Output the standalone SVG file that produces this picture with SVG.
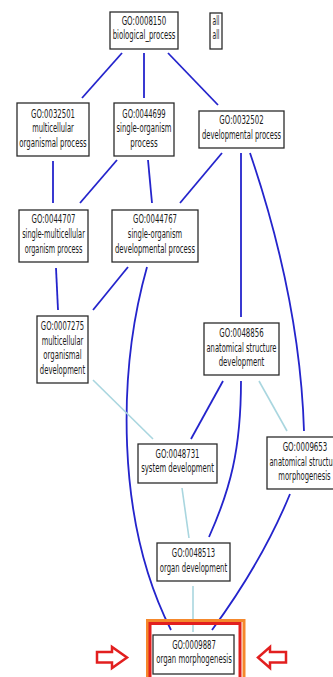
<svg xmlns="http://www.w3.org/2000/svg" width="333" height="677" viewBox="0 0 333 677">
<style>
.bg{fill:#ffffff}
.box{fill:#ffffff;stroke:#2b2b2b;stroke-width:1.3}
.t{font-family:"DejaVu Sans","Liberation Sans",sans-serif;font-size:11.5px;fill:#1a1a1a;text-anchor:middle}
.e{fill:none;stroke:#2424cc;stroke-width:1.8}
.p{fill:none;stroke:#a9d6df;stroke-width:1.6}
.hl1{fill:none;stroke:#f5882c;stroke-width:3}
.hl2{fill:none;stroke:#e21f1f;stroke-width:3}
.arr{fill:#ffffff;stroke:#e21f1f;stroke-width:2.5;stroke-linejoin:miter}
</style>
<rect class="bg" x="0" y="0" width="333" height="677"/>
<g id="connectors">
<path class="e" d="M122,53 L82,98"/>
<path class="e" d="M144,53 L144,98"/>
<path class="e" d="M168,53 L218,105"/>
<path class="e" d="M53,161 L53,203"/>
<path class="e" d="M117,160 L80,203"/>
<path class="e" d="M148,160 L152,203"/>
<path class="e" d="M222,153 L180,203"/>
<path class="e" d="M241,153 L241,317"/>
<path class="e" d="M250,153 Q300,300 304,431"/>
<path class="e" d="M56,268 L58,310"/>
<path class="e" d="M128,267 L93,310"/>
<path class="e" d="M147,267 C118,370 115,520 171,630"/>
<path class="p" d="M93,380 L153,439"/>
<path class="e" d="M223,381 L191,439"/>
<path class="e" d="M241,381 C241,450 230,490 209,537"/>
<path class="p" d="M259,381 L287,431"/>
<path class="p" d="M182,488 L189,538"/>
<path class="e" d="M290,494 Q262,562 212,630"/>
<path class="p" d="M193,586 L193,632"/>
</g>
<g id="highlight">
<rect class="hl1" x="147.5" y="620.5" width="96.5" height="80"/>
<rect class="hl2" x="150" y="623.5" width="90" height="80"/>
<polygon class="arr" points="97,652 112,652 112,647 127,657.5 112,668 112,662.5 97,662.5"/>
<polygon class="arr" points="286,652 270,652 270,647 258,657.5 270,668 270,662.5 286,662.5"/>
</g>
<g id="GO0008150">
<rect class="box" x="110" y="12" width="68" height="37"/>
<text class="t" x="144" y="25.4" textLength="44.7" lengthAdjust="spacingAndGlyphs">GO:0008150</text>
<text class="t" x="144" y="39.4" textLength="62.7" lengthAdjust="spacingAndGlyphs">biological_process</text>
</g>
<g id="all">
<rect class="box" x="210" y="13" width="12" height="36"/>
<text class="t" x="216" y="25.2" textLength="7" lengthAdjust="spacingAndGlyphs">all</text>
<text class="t" x="216" y="38.8" textLength="7" lengthAdjust="spacingAndGlyphs">all</text>
</g>
<g id="GO0032501">
<rect class="box" x="17" y="103" width="72" height="53"/>
<text class="t" x="53" y="117.5" textLength="44" lengthAdjust="spacingAndGlyphs">GO:0032501</text>
<text class="t" x="53" y="132.2" textLength="41.7" lengthAdjust="spacingAndGlyphs">multicellular</text>
<text class="t" x="53" y="147" textLength="67.3" lengthAdjust="spacingAndGlyphs">organismal process</text>
</g>
<g id="GO0044699">
<rect class="box" x="114" y="103" width="60" height="53"/>
<text class="t" x="144" y="117.5" textLength="43.3" lengthAdjust="spacingAndGlyphs">GO:0044699</text>
<text class="t" x="144" y="132.2" textLength="55" lengthAdjust="spacingAndGlyphs">single-organism</text>
<text class="t" x="144" y="147" textLength="27.3" lengthAdjust="spacingAndGlyphs">process</text>
</g>
<g id="GO0032502">
<rect class="box" x="199" y="111" width="85" height="37"/>
<text class="t" x="241.5" y="124.4" textLength="44.3" lengthAdjust="spacingAndGlyphs">GO:0032502</text>
<text class="t" x="241.5" y="139.4" textLength="79" lengthAdjust="spacingAndGlyphs">developmental process</text>
</g>
<g id="GO0044707">
<rect class="box" x="19" y="210" width="69" height="52"/>
<text class="t" x="53.5" y="223.4" textLength="44" lengthAdjust="spacingAndGlyphs">GO:0044707</text>
<text class="t" x="53.5" y="238.4" textLength="62.7" lengthAdjust="spacingAndGlyphs">single-multicellular</text>
<text class="t" x="53.5" y="253.4" textLength="57.7" lengthAdjust="spacingAndGlyphs">organism process</text>
</g>
<g id="GO0044767">
<rect class="box" x="112" y="210" width="86" height="52"/>
<text class="t" x="155" y="223.4" textLength="44" lengthAdjust="spacingAndGlyphs">GO:0044767</text>
<text class="t" x="155" y="238.4" textLength="54.3" lengthAdjust="spacingAndGlyphs">single-organism</text>
<text class="t" x="155" y="253.4" textLength="80" lengthAdjust="spacingAndGlyphs">developmental process</text>
</g>
<g id="GO0007275">
<rect class="box" x="37" y="316" width="51" height="67"/>
<text class="t" x="62.5" y="330" textLength="43.3" lengthAdjust="spacingAndGlyphs">GO:0007275</text>
<text class="t" x="62.5" y="344.5" textLength="41.7" lengthAdjust="spacingAndGlyphs">multicellular</text>
<text class="t" x="62.5" y="359" textLength="38.3" lengthAdjust="spacingAndGlyphs">organismal</text>
<text class="t" x="62.5" y="373.5" textLength="45.3" lengthAdjust="spacingAndGlyphs">development</text>
</g>
<g id="GO0048856">
<rect class="box" x="204" y="323" width="75" height="52"/>
<text class="t" x="241.5" y="337.4" textLength="44.3" lengthAdjust="spacingAndGlyphs">GO:0048856</text>
<text class="t" x="241.5" y="351.6" textLength="70" lengthAdjust="spacingAndGlyphs">anatomical structure</text>
<text class="t" x="241.5" y="366.4" textLength="45.7" lengthAdjust="spacingAndGlyphs">development</text>
</g>
<g id="GO0048731">
<rect class="box" x="138" y="444" width="79" height="39"/>
<text class="t" x="177.5" y="458.4" textLength="44" lengthAdjust="spacingAndGlyphs">GO:0048731</text>
<text class="t" x="177.5" y="472.4" textLength="72.7" lengthAdjust="spacingAndGlyphs">system development</text>
</g>
<g id="GO0009653">
<rect class="box" x="267" y="437" width="76" height="52"/>
<text class="t" x="305" y="451.4" textLength="44.7" lengthAdjust="spacingAndGlyphs">GO:0009653</text>
<text class="t" x="304.5" y="466.2" textLength="70" lengthAdjust="spacingAndGlyphs">anatomical structure</text>
<text class="t" x="304.5" y="480.4" textLength="52.3" lengthAdjust="spacingAndGlyphs">morphogenesis</text>
</g>
<g id="GO0048513">
<rect class="box" x="157" y="543" width="73" height="38"/>
<text class="t" x="193.5" y="557.4" textLength="43.3" lengthAdjust="spacingAndGlyphs">GO:0048513</text>
<text class="t" x="193.5" y="572.4" textLength="67.3" lengthAdjust="spacingAndGlyphs">organ development</text>
</g>
<g id="GO0009887">
<rect class="box" x="153" y="635" width="81" height="39"/>
<text class="t" x="194" y="648.6" textLength="43.7" lengthAdjust="spacingAndGlyphs">GO:0009887</text>
<text class="t" x="194" y="663.4" textLength="75.7" lengthAdjust="spacingAndGlyphs">organ morphogenesis</text>
</g>
</svg>
